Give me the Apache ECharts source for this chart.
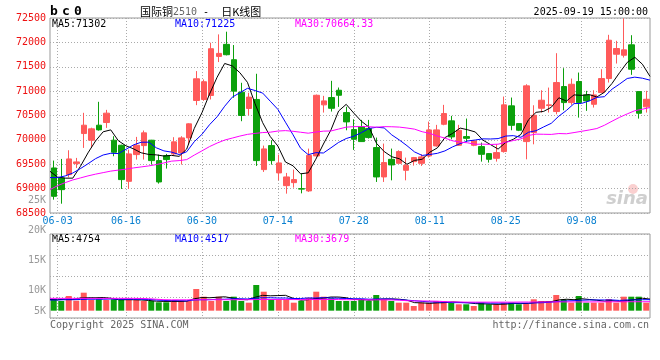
<!DOCTYPE html>
<html>
<head>
<meta charset="utf-8">
<script src="https://cdn.jsdelivr.net/npm/echarts@6/dist/echarts.min.js"></script>
<style>
  html, body { margin: 0; padding: 0; background: #fff; }
  #main { width: 660px; height: 360px; }
</style>
</head>
<body>
<div id="main"></div>
<script>
// trading days, 05-30 .. 09-19
const dates = [
  "05-30",
  "06-03", "06-04", "06-05", "06-06", "06-09", "06-10", "06-11", "06-12", "06-13", "06-16",
  "06-17", "06-18", "06-19", "06-20", "06-23", "06-24", "06-25", "06-26", "06-27", "06-30",
  "07-01", "07-02", "07-03", "07-04", "07-07", "07-08", "07-09", "07-10", "07-11", "07-14",
  "07-15", "07-16", "07-17", "07-18", "07-21", "07-22", "07-23", "07-24", "07-25", "07-28",
  "07-29", "07-30", "07-31", "08-01", "08-04", "08-05", "08-06", "08-07", "08-08", "08-11",
  "08-12", "08-13", "08-14", "08-15", "08-18", "08-19", "08-20", "08-21", "08-22", "08-25",
  "08-26", "08-27", "08-28", "08-29", "09-01", "09-02", "09-03", "09-04", "09-05", "09-08",
  "09-09", "09-10", "09-11", "09-12", "09-15", "09-16", "09-17", "09-18", "09-19",
];
const labelDates = ["06-03", "06-16", "06-30", "07-14", "07-28", "08-11", "08-25", "09-08"];

const opens = [
  69424, 69219, 69287, 69513, 70130, 69993, 70301, 70356, 69993, 69890,
  69150, 69698, 69883, 69993, 69575, 69678, 69712, 69733, 70041, 70808,
  70829, 70911, 71712, 71959, 71644, 70979, 70644, 70829, 69390, 69883,
  69322, 69061, 69123, 69000, 68953, 69671, 70718, 70868, 71018, 70560,
  70211, 70273, 70232, 69842, 69240, 69601, 69519, 69376, 69554, 69519,
  69671, 69876, 70320, 70390, 69889, 70067, 69889, 69862, 69718, 69622,
  69760, 70698, 70334, 69965, 70149, 70648, 70704, 70581, 71094, 70765,
  71197, 70923, 70730, 70971, 71258, 71757, 71736, 71950, 70991, 70677,
];
const closes = [
  68842, 68979, 69609, 69548, 70301, 70226, 70205, 70548, 69746, 69185,
  69712, 69890, 70144, 69575, 69137, 69596, 69959, 70041, 70329, 71253,
  71192, 71870, 71774, 71747, 71000, 70500, 70877, 69575, 69815, 69575,
  69527, 69240, 69185, 68990, 69683, 70915, 70800, 70648, 70915, 70369,
  70012, 69965, 70047, 69240, 69534, 69486, 69760, 69478, 69636, 69651,
  70205, 70205, 70540, 70061, 70197, 70032, 69979, 69704, 69601, 69739,
  70718, 70299, 70197, 71108, 70505, 70813, 70718, 71176, 70765, 71141,
  70765, 70800, 70923, 71258, 72044, 71874, 71847, 71449, 70546, 70833,
];
const lows = [
  68774, 68691, 69233, 69424, 69835, 69835, 70190, 70246, 69664, 68993,
  68993, 69596, 69596, 69493, 69103, 69411, 69685, 69493, 69900, 70712,
  70800, 70829, 71596, 71733, 70863, 70383, 70507, 69466, 69342, 69493,
  69171, 68897, 69020, 68903, 68932, 69660, 70560, 70581, 70677, 70197,
  69794, 69959, 70026, 69137, 69137, 69170, 69519, 69170, 69472, 69466,
  69636, 69860, 70300, 70012, 69876, 69965, 69870, 69554, 69534, 69554,
  69739, 70197, 70180, 69601, 69909, 70560, 70560, 70525, 70607, 70718,
  70457, 70595, 70663, 70971, 71176, 71566, 71689, 71334, 70437, 70560,
];
const highs = [
  69575, 69609, 69787, 69630, 70555, 70250, 70781, 70616, 70075, 69900,
  69801, 70061, 70192, 70000, 69698, 69712, 70055, 70075, 70340, 71411,
  71240, 71993, 72164, 72219, 71945, 71171, 70966, 71356, 69883, 69993,
  69698, 69322, 69390, 69308, 69821, 70930, 70903, 71211, 71074, 70677,
  70423, 70410, 70410, 70047, 69924, 69821, 69786, 69636, 69650, 69704,
  70375, 70308, 70718, 70492, 70308, 70437, 69990, 69944, 69730, 69909,
  70889, 70868, 70340, 71141, 70710, 71018, 71073, 71778, 71470, 71258,
  71381, 71006, 71018, 71449, 72155, 72032, 72490, 72147, 70991, 71006,
];

const ma5 = [
  69355, 69235, 69215, 69215, 69456, 69733, 69978, 70166, 70205, 69982,
  69879, 69816, 69735, 69701, 69692, 69668, 69682, 69662, 69812, 70236,
  70555, 70937, 71284, 71567, 71517, 71378, 71180, 70740, 70353, 70068,
  69874, 69546, 69468, 69303, 69325, 69603, 69915, 70207, 70592, 70729,
  70549, 70382, 70262, 69927, 69760, 69654, 69613, 69500, 69579, 69602,
  69746, 69835, 70047, 70132, 70242, 70207, 70162, 69995, 69903, 69811,
  69948, 70012, 70111, 70412, 70565, 70584, 70668, 70864, 70795, 70923,
  70913, 70929, 70879, 70977, 71158, 71380, 71589, 71694, 71552, 71302,
];
const ma10 = [
  69226, 69226, 69260, 69320, 69410, 69510, 69615, 69690, 69725, 69719,
  69806, 69897, 69951, 69953, 69837, 69774, 69749, 69699, 69757, 69964,
  70112, 70310, 70473, 70690, 70876, 70967, 71058, 71012, 70960, 70793,
  70626, 70363, 70104, 69828, 69697, 69738, 69731, 69838, 69948, 70027,
  70076, 70148, 70234, 70259, 70245, 70102, 69998, 69881, 69753, 69681,
  69700, 69724, 69774, 69856, 69922, 69977, 69998, 70021, 70018, 70026,
  70078, 70087, 70053, 70157, 70188, 70266, 70340, 70487, 70604, 70744,
  70749, 70799, 70871, 70886, 71040, 71146, 71259, 71287, 71265, 71225,
];
const ma30 = [
  68979, 69061, 69123, 69178, 69219, 69261, 69297, 69328, 69359, 69380,
  69400, 69425, 69445, 69466, 69493, 69527, 69564, 69575, 69595, 69688,
  69774, 69862, 69934, 69996, 70037, 70078, 70113, 70133, 70150, 70158,
  70181, 70190, 70176, 70157, 70137, 70160, 70179, 70183, 70222, 70261,
  70271, 70274, 70270, 70259, 70272, 70269, 70262, 70243, 70220, 70167,
  70134, 70078, 70037, 69981, 69954, 69939, 69909, 69913, 69906, 69911,
  69951, 69986, 70020, 70091, 70118, 70115, 70112, 70130, 70125, 70150,
  70176, 70203, 70233, 70300, 70383, 70463, 70533, 70598, 70629, 70664,
];

const volumes = [
  4670, 3980, 6030, 4100, 7380, 4390, 4670, 4390, 4670, 4390,
  4390, 4390, 3980, 3980, 3440, 3440, 4390, 4100, 3980, 8900,
  5740, 3980, 5740, 3980, 5740, 3980, 3280, 10540, 7790, 4670,
  4670, 4670, 3280, 3980, 5330, 7790, 5740, 5080, 3980, 3980,
  3980, 4800, 3980, 6440, 4670, 3980, 3280, 3280, 1930, 3280,
  3280, 3980, 3980, 3280, 2620, 2620, 1930, 3280, 2620, 2620,
  3280, 3280, 2620, 3030, 4670, 3980, 3980, 6440, 4670, 3280,
  6030, 3280, 3280, 3280, 4800, 3280, 5740, 5740, 5740, 3280,
];
const volMa5 = [
  4600, 4500, 4700, 4600, 5200, 5300, 5300, 5400, 5100, 4500,
  4500, 4500, 4400, 4200, 3900, 3800, 3800, 3800, 3900, 4900,
  5400, 5300, 5500, 5700, 5200, 4600, 4500, 5500, 6300, 6100,
  6200, 6300, 5100, 4300, 4500, 5000, 5200, 5600, 5600, 5300,
  4600, 4600, 4300, 4600, 4800, 4800, 4700, 4300, 3300, 3200,
  3000, 3200, 3300, 3600, 3400, 3300, 2900, 2800, 2700, 2600,
  2700, 3000, 2900, 3000, 3400, 3600, 3700, 4400, 4700, 4500,
  4900, 4600, 4300, 3900, 4100, 3800, 4100, 4600, 5100, 4754,
];
const volMa10 = [
  4400, 4400, 4500, 4500, 4600, 4700, 4700, 4700, 4800, 4700,
  4700, 4700, 4700, 4600, 4400, 4200, 4100, 4100, 4000, 4400,
  4500, 4500, 4700, 4700, 4900, 4900, 4800, 5100, 5300, 5300,
  5200, 5200, 5000, 5000, 5200, 5200, 5300, 5200, 5100, 5000,
  4900, 4900, 4700, 4800, 4800, 4800, 4500, 4300, 4100, 3800,
  3600, 3500, 3500, 3300, 3300, 3200, 3200, 3200, 3100, 3100,
  3100, 3100, 3100, 3100, 3200, 3300, 3500, 3800, 4000, 4100,
  4300, 4400, 4400, 4400, 4400, 4200, 4400, 4400, 4500, 4517,
];
const volMa30 = [
  5050, 5050, 5050, 5050, 5050, 5050, 5050, 5050, 5050, 5050,
  5050, 5050, 5000, 4900, 4700, 4500, 4450, 4450, 4450, 4500,
  4500, 4500, 4500, 4500, 4500, 4500, 4500, 4550, 4600, 4600,
  4600, 4600, 4550, 4550, 4550, 4600, 4600, 4600, 4550, 4500,
  4500, 4500, 4450, 4450, 4450, 4400, 4300, 4100, 4000, 4000,
  3950, 3900, 3700, 3600, 3550, 3500, 3500, 3500, 3500, 3500,
  3500, 3500, 3550, 3550, 3550, 3600, 3600, 3600, 3600, 3600,
  3600, 3600, 3620, 3630, 3640, 3650, 3660, 3670, 3675, 3679,
];

const FONT = "DejaVu Sans Mono";
const UP = "#ff5a5a";
const DOWN = "#0ca00c";
const dotted = { type: [1, 2], color: "#aaa", width: 1 };
const showDate = (idx, value) => labelDates.includes(value);

const candles = dates.map((d, i) => [opens[i], closes[i], lows[i], highs[i]]);
const volBars = volumes.map((v, i) => ({
  value: v,
  itemStyle: { color: closes[i] >= opens[i] ? UP : DOWN },
}));

const maLine = (name, data, color, xi, yi) => ({
  name,
  type: "line",
  data,
  xAxisIndex: xi,
  yAxisIndex: yi,
  symbol: "none",
  silent: true,
  lineStyle: { color, width: 1 },
});

const txt = (x, y, text, fill, extra) => ({
  type: "text",
  x,
  y,
  silent: true,
  style: Object.assign(
    { text, fill, fontFamily: FONT, fontSize: 10, verticalAlign: "middle", align: "left" },
    extra || {}
  ),
});

const chart = echarts.init(document.getElementById("main"), null, { renderer: "canvas" });

const option = {
  animation: false,
  backgroundColor: "#fff",
  grid: [
    { left: 50, top: 18, width: 600, height: 195, show: true, borderColor: "#999", borderWidth: 1, containLabel: false, outerBoundsMode: "none" },
    { left: 50, top: 234, width: 600, height: 84, show: true, borderColor: "#999", borderWidth: 1, containLabel: false, outerBoundsMode: "none" },
    { left: 50, top: 200, width: 600, height: 120, show: false, containLabel: false, outerBoundsMode: "none" },
  ],
  xAxis: [
    { gridIndex: 0, type: "category", data: dates, boundaryGap: true, position: "top", show: false },
    {
      gridIndex: 0,
      type: "category",
      data: dates,
      boundaryGap: false,
      position: "bottom",
      axisLine: { show: false },
      axisTick: { show: false },
      axisLabel: { interval: showDate, color: "#0a80d0", fontFamily: FONT, fontSize: 10, margin: 3 },
      splitLine: { show: true, interval: showDate, lineStyle: dotted },
    },
    { gridIndex: 1, type: "category", data: dates, boundaryGap: true, position: "top", show: false },
    {
      gridIndex: 1,
      type: "category",
      data: dates,
      boundaryGap: false,
      position: "bottom",
      axisLine: { show: false },
      axisTick: { show: false },
      axisLabel: { show: false },
      splitLine: { show: true, interval: showDate, lineStyle: dotted },
    },
    { gridIndex: 2, type: "value", show: false },
  ],
  yAxis: [
    {
      gridIndex: 0,
      type: "value",
      min: 68500,
      max: 72500,
      interval: 500,
      axisLine: { show: false },
      axisTick: { show: false },
      axisLabel: {
        color: "#ee1111",
        fontFamily: FONT,
        fontSize: 10,
        margin: 4,
        padding: [0, 0, 4, 0],
        formatter: (v) => String(v),
      },
      splitLine: { lineStyle: dotted },
    },
    { gridIndex: 1, type: "value", min: -3000, max: 31450, show: false },
    {
      gridIndex: 1,
      type: "value",
      min: 0,
      max: 4,
      interval: 1,
      axisLine: { show: false },
      axisTick: { show: false },
      axisLabel: { show: false },
      splitLine: { lineStyle: dotted },
    },
    {
      gridIndex: 2,
      type: "value",
      min: 5000,
      max: 25000,
      interval: 5000,
      axisLine: { show: false },
      axisTick: { show: false },
      splitLine: { show: false },
      axisLabel: {
        color: "#999",
        fontFamily: FONT,
        fontSize: 10,
        margin: 4,
        formatter: (v) => (v === 5000 ? "{lo|5K}" : v / 1000 + "K"),
        rich: { lo: { color: "#999", fontFamily: FONT, fontSize: 10, padding: [0, 0, 18, 0] } },
      },
    },
  ],
  series: [
    {
      name: "K",
      type: "candlestick",
      data: candles,
      xAxisIndex: 0,
      yAxisIndex: 0,
      barWidth: 6,
      silent: true,
      itemStyle: { color: UP, color0: DOWN, borderColor: UP, borderColor0: DOWN, borderWidth: 1 },
    },
    maLine("MA5", ma5, "#000000", 1, 0),
    maLine("MA10", ma10, "#0000ff", 1, 0),
    maLine("MA30", ma30, "#ff00ff", 1, 0),
    {
      name: "VOL",
      type: "bar",
      data: volBars,
      xAxisIndex: 2,
      yAxisIndex: 1,
      barWidth: 6,
      silent: true,
    },
    maLine("VMA5", volMa5, "#000000", 3, 1),
    maLine("VMA10", volMa10, "#0000ff", 3, 1),
    maLine("VMA30", volMa30, "#ff00ff", 3, 1),
  ],
  graphic: [
    {
      type: "text",
      x: 50,
      y: 12,
      silent: true,
      style: {
        text: "{a|b}{a|c}{a|0}",
        verticalAlign: "middle",
        rich: { a: { width: 12, fontFamily: FONT, fontSize: 13, fontWeight: "bold", fill: "#000" } },
      },
    },
    {
      type: "text",
      x: 140,
      y: 12,
      silent: true,
      style: {
        text: "{c|国际铜}{n|2510}{m| -  }{c|日K线图}",
        verticalAlign: "middle",
        rich: {
          c: { fontFamily: "Noto Sans CJK SC", fontSize: 11, fill: "#000" },
          n: { fontFamily: FONT, fontSize: 10, fill: "#666" },
          m: { fontFamily: FONT, fontSize: 10, fill: "#000" },
        },
      },
    },
    txt(648, 12, "2025-09-19 15:00:00", "#000", { align: "right" }),
    txt(52, 24, "MA5:71302", "#000"),
    txt(175, 24, "MA10:71225", "#0000ff"),
    txt(295, 24, "MA30:70664.33", "#ff00ff"),
    txt(52, 239, "MA5:4754", "#000"),
    txt(175, 239, "MA10:4517", "#0000ff"),
    txt(295, 239, "MA30:3679", "#ff00ff"),
    txt(50, 325, "Copyright 2025 SINA.COM", "#666"),
    txt(649, 325, "http://finance.sina.com.cn", "#666", { align: "right" }),
    {
      type: "circle",
      silent: true,
      shape: { cx: 633, cy: 189, r: 5 },
      style: { fill: "rgba(240,120,120,0.35)" },
    },
    txt(648, 199, "sina", "#cfcfcf", { align: "right", fontSize: 18, fontWeight: "bold", fontStyle: "italic", fontFamily: "DejaVu Sans" }),
  ],
};

chart.setOption(option, true);
</script>
</body>
</html>
